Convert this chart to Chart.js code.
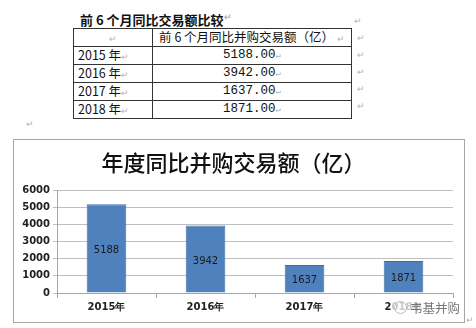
<!DOCTYPE html>
<html>
<head>
<meta charset="utf-8">
<script src="https://cdn.jsdelivr.net/npm/chart.js@4/dist/chart.umd.min.js"></script>
<style>
  body { margin: 0; width: 476px; height: 328px; background: #fff; position: relative; overflow: hidden;
         font-family: "Noto Sans CJK SC", sans-serif; color: #111; }
  .mark { position: absolute; color: #b5b5b5; font-size: 9px; }
  #caption { position: absolute; left: 80px; top: 10px; font-size: 13px; font-weight: bold; }
  table { position: absolute; left: 73px; top: 28px; border-collapse: collapse; font-size: 12.5px; }
  td { border: 1px solid #333; height: 15px; padding: 0 4px; line-height: 15px; white-space: nowrap; }
  td.c1 { width: 70px; }
  td.c2 { width: 190px; text-align: center; font-family: "Liberation Mono", "Noto Sans CJK SC", monospace; }
  td .m { color: #b5b5b5; font-size: 9px; }
  #box { position: absolute; left: 13px; top: 139px; width: 450px; height: 182px; border: 1px solid #a6a6a6; }
  #wm { position: absolute; left: 392px; top: 298px; font-size: 12.5px; color: #777;
        background: rgba(255,255,255,0.75); padding: 0 2px; }
  #wm span { display: inline-block; width: 11px; height: 11px; border: 1px solid #bbb; border-radius: 50%;
             vertical-align: -1px; margin-right: 3px; }
</style>
</head>
<body>
<div id="caption">前 6 个月同比交易额比较<span class="mark">↵</span></div>
<div class="mark" style="left:354px;top:14px">↵</div>
<table id="tbl"></table>
<div class="mark" style="left:26px;top:117px">↵</div>
<div id="box"><canvas id="chart" width="450" height="182"></canvas></div>
<div id="wm"><span></span>韦基并购</div>
<div class="mark" style="left:466px;top:313px">↵</div>
<script>
const years = ['2015年', '2016年', '2017年', '2018年'];
const amounts = [5188, 3942, 1637, 1871];
const yTicks = [0, 1000, 2000, 3000, 4000, 5000, 6000];
const headerText = '前 6 个月同比并购交易额（亿）';

// table above the chart
const tbl = document.getElementById('tbl');
let rows = '<tr><td class="c1" style="text-align:center"><span class="m">↵</span></td><td class="c2" style="font-family:\'Noto Sans CJK SC\'">' +
  headerText + ' <span class="m">↵</span></td></tr>';
years.forEach((y, i) => {
  rows += '<tr><td class="c1">' + y.replace('年', ' 年') + '<span class="m">↵</span></td><td class="c2">' +
    amounts[i].toFixed(2) + '<span class="m">↵</span></td></tr>';
});
tbl.innerHTML = rows;
tbl.querySelectorAll('tr').forEach((tr, i) => {
  const m = document.createElement('div');
  m.className = 'mark';
  m.style.left = '357px';
  m.style.top = (31 + i * 17) + 'px';
  m.textContent = '↵';
  document.body.appendChild(m);
});

// value labels in the middle of each bar
const barLabels = {
  id: 'barLabels',
  afterDatasetsDraw(chart) {
    const ctx = chart.ctx;
    ctx.save();
    ctx.font = '10px "DejaVu Sans", sans-serif';
    ctx.fillStyle = '#1a1a1a';
    ctx.textAlign = 'center';
    ctx.textBaseline = 'middle';
    chart.getDatasetMeta(0).data.forEach((bar, i) => {
      ctx.fillText(String(amounts[i]), bar.x, (bar.y + bar.base) / 2 + 2);
    });
    ctx.restore();
  }
};

new Chart(document.getElementById('chart'), {
  type: 'bar',
  data: {
    labels: years,
    datasets: [{
      data: amounts,
      backgroundColor: '#4f81bd',
      borderColor: '#3d6da6',
      borderWidth: 1,
      categoryPercentage: 1,
      barPercentage: 0.4
    }]
  },
  options: {
    responsive: false,
    animation: false,
    layout: { padding: { left: 0, right: 11, top: 0, bottom: 0 } },
    plugins: {
      legend: { display: false },
      tooltip: { enabled: false },
      title: {
        display: true,
        text: '年度同比并购交易额（亿）',
        color: '#111',
        font: { family: '"Noto Sans CJK SC"', size: 22, weight: 500, lineHeight: 1.2 },
        padding: { top: 9, bottom: 15 }
      }
    },
    scales: {
      x: {
        afterFit(scale) { scale.height = 29; },
        grid: { offset: true, drawOnChartArea: false, tickLength: 5, color: '#a6a6a6' },
        border: { color: '#a6a6a6' },
        ticks: { color: '#222', padding: 3, font: { family: '"DejaVu Sans"', size: 10, weight: 'bold' } }
      },
      y: {
        min: 0,
        max: 6000,
        afterFit(scale) { scale.width = 43; },
        afterBuildTicks(scale) { scale.ticks = yTicks.map(v => ({ value: v })); },
        grid: { color: '#bfbfbf', tickLength: 4 },
        border: { color: '#a6a6a6' },
        ticks: {
          color: '#222', padding: 3,
          font: { family: '"DejaVu Sans"', size: 10, weight: 'bold' },
          callback: v => String(v)
        }
      }
    }
  },
  plugins: [barLabels]
});
</script>
</body>
</html>
